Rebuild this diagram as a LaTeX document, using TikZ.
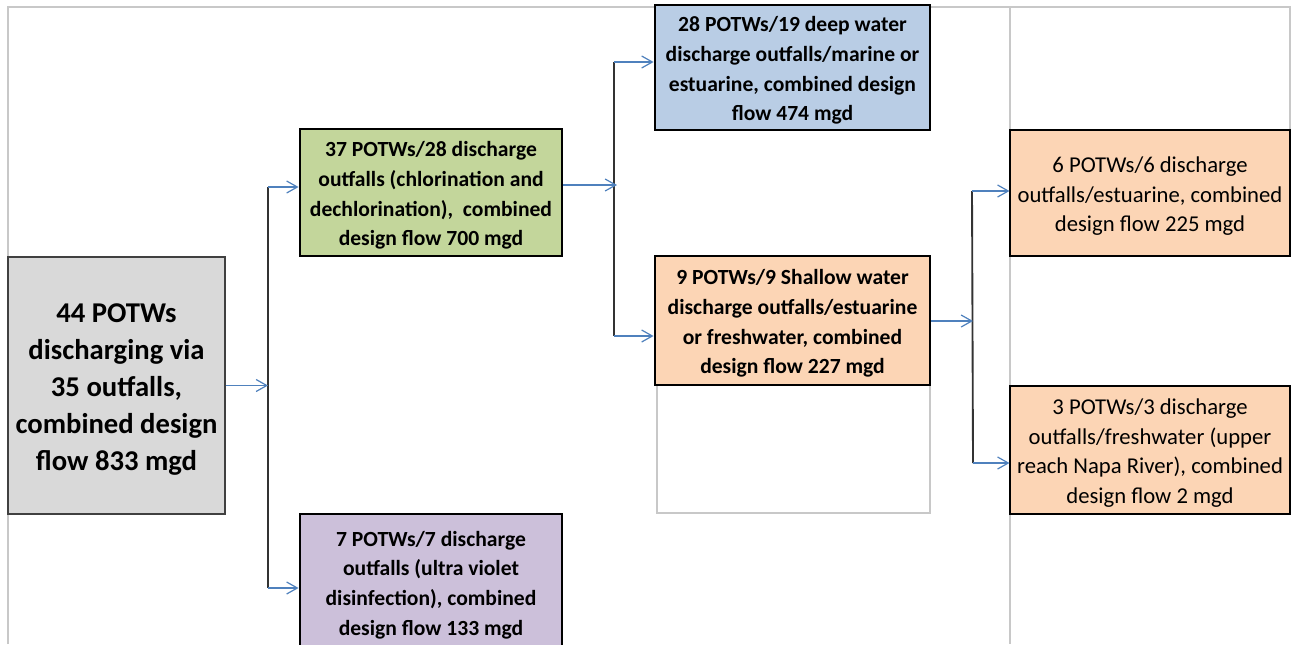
\documentclass[tikz,border=0pt]{standalone}
\usepackage{fontspec}
\setmainfont{Carlito}
\usetikzlibrary{arrows.meta}
\definecolor{grayfill}{HTML}{D9D9D9}
\definecolor{greenfill}{HTML}{C3D69B}
\definecolor{purplefill}{HTML}{CCC0DA}
\definecolor{bluefill}{HTML}{B9CDE5}
\definecolor{peachfill}{HTML}{FCD5B5}
\definecolor{arrowblue}{HTML}{4F81BD}
\definecolor{gridgray}{HTML}{C8C8C8}
\newcommand\padtop{\rule{0pt}{\dimexpr0.85em+4.5pt\relax}}
\newcommand\padbot{\rule[-0.32em]{0pt}{0pt}}
\tikzset{
  box/.style={draw=black, line width=2.2pt, align=center, inner sep=0pt,
    font=\fontsize{16.2}{22.2}\selectfont\bfseries},
  thinbox/.style={draw=black, line width=0.8pt, align=center, inner sep=0pt,
    font=\fontsize{17}{22.2}\selectfont},
  bigbox/.style={draw=black!75, line width=1.1pt, align=center, inner sep=0pt,
    font=\fontsize{21.5}{27.75}\selectfont\bfseries},
  arr/.style={draw=arrowblue, line width=1.1pt, -{Straight Barb[length=8pt,width=9pt,line width=0.9pt]}},
  trunk/.style={draw=black!80, line width=1.4pt},
  grid/.style={draw=gridgray, line width=0.9pt}
}
\begin{document}
\begin{tikzpicture}[x=0.75pt,y=-0.75pt]
\clip (0,0) rectangle (1291,644);
\useasboundingbox (0,0) rectangle (1291,644);
\fill[white] (0,0) rectangle (1291,644);
% background grid lines
\draw[grid] (8,644) -- (8,7) -- (1290,7) -- (1290,130);
\draw[grid] (1010,7) -- (1010,644);
\draw[grid] (657,385) rectangle (930,513);
% boxes
\node[bigbox, fill=grayfill, minimum width=217*0.75pt, minimum height=257*0.75pt] (src) at (116.5,385.5)
  {\padtop 44 POTWs\\discharging via\\35 outfalls,\\combined design\\flow 833 mgd\padbot};
\node[box, fill=greenfill, minimum width=262*0.75pt, minimum height=127*0.75pt] (chl) at (431,192.5)
  {\padtop 37 POTWs/28 discharge\\outfalls (chlorination and\\dechlorination),\ \ combined\\design flow 700 mgd\padbot};
\node[box, fill=purplefill, minimum width=262*0.75pt, minimum height=136*0.75pt] (uv) at (431,582)
  {\padtop 7 POTWs/7 discharge\\outfalls (ultra violet\\disinfection), combined\\design flow 133 mgd\padbot};
\node[box, fill=bluefill, minimum width=275*0.75pt, minimum height=125*0.75pt] (deep) at (792.5,67.5)
  {\padtop 28 POTWs/19 deep water\\discharge outfalls/marine or\\estuarine, combined design\\flow 474 mgd\padbot};
\node[box, fill=peachfill, minimum width=275*0.75pt, minimum height=129*0.75pt] (shal) at (792.5,320.5)
  {\padtop 9 POTWs/9 Shallow water\\discharge outfalls/estuarine\\or freshwater, combined\\design flow 227 mgd\padbot};
\node[thinbox, fill=peachfill, minimum width=280*0.75pt, minimum height=126*0.75pt] (est) at (1150,193)
  {\padtop 6 POTWs/6 discharge\\outfalls/estuarine, combined\\design flow 225 mgd\padbot};
\node[thinbox, fill=peachfill, minimum width=280*0.75pt, minimum height=128*0.75pt] (fresh) at (1150,450)
  {\padtop 3 POTWs/3 discharge\\outfalls/freshwater (upper\\reach Napa River), combined\\design flow 2 mgd\padbot};
% junction coordinates
\coordinate (a0) at (268,385.5);
\coordinate (a1) at (268,187);
\coordinate (a2) at (268,588);
\coordinate (b0) at (617,185);
\coordinate (b1) at (614,62);
\coordinate (b2) at (614,336);
\coordinate (c0) at (973,321);
\coordinate (c1) at (972,191);
\coordinate (c2) at (973,463);
% trunks
\draw[trunk] (a1) -- (a2);
\draw[trunk] (b1) -- (b2);
\draw[trunk] (c1) -- (c2);
% arrows
\draw[arr] (src.east |- a0) -- (a0);
\draw[arr] (a1) -- (chl.west |- a1);
\draw[arr] (a2) -- (uv.west |- a2);
\draw[arr] (chl.east |- b0) -- (b0);
\draw[arr] (b1) -- (deep.west |- b1);
\draw[arr] (b2) -- (shal.west |- b2);
\draw[arr] (shal.east |- c0) -- (c0);
\draw[arr] (c1) -- (est.west |- c1);
\draw[arr] (c2) -- (fresh.west |- c2);
\end{tikzpicture}
\end{document}
